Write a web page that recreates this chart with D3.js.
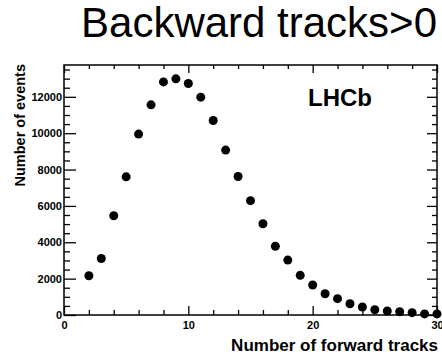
<!DOCTYPE html>
<html>
<head>
<meta charset="utf-8">
<script src="https://cdn.jsdelivr.net/npm/d3@7"></script>
<style>
  body { margin: 0; background: #fff; }
  svg { display: block; font-family: "Liberation Sans", Arial, sans-serif; }
  .axis path { display: none; }
  .axis line { stroke: #000; stroke-width: 1.3px; }
  .axis text { font-size: 11px; font-weight: bold; fill: #000; }
</style>
</head>
<body>
<script>
// number of forward tracks (bin centres)
var nTracks = [2, 3, 4, 5, 6, 7, 8, 9, 10, 11, 12, 13, 14, 15, 16,
               17, 18, 19, 20, 21, 22, 23, 24, 25, 26, 27, 28, 29, 30];
// number of events per bin
var nEvents = [2160, 3110, 5460, 7600, 9950, 11560, 12820, 12990, 12730, 11980, 10700, 9070, 7620, 6290, 5020,
               3780, 3020, 2180, 1650, 1170, 900, 620, 440, 290, 220, 180, 130, 60, 60];
var xMajor = [0, 10, 20, 30];
var yMajor = [0, 2000, 4000, 6000, 8000, 10000, 12000];

var W = 442, H = 356;
var pL = 64, pR = 437, pT = 65, pB = 315;

var svg = d3.select("body").append("svg")
    .attr("width", W)
    .attr("height", H);

var x = d3.scaleLinear().domain([0, 30]).range([pL, pR]);
var y = d3.scaleLinear().domain([0, 13750]).range([pB, pT]);

var xMinor = d3.range(0, 31, 2).filter(function(v) { return xMajor.indexOf(v) < 0; });
var yMinor = d3.range(0, 13750, 500).filter(function(v) { return yMajor.indexOf(v) < 0; });

// frame
svg.append("rect")
    .attr("x", pL).attr("y", pT)
    .attr("width", pR - pL).attr("height", pB - pT)
    .style("fill", "none").style("stroke", "#000").style("stroke-width", "1.5px");

// bottom axis (ticks point up)
svg.append("g").attr("class", "axis")
    .attr("transform", "translate(0," + pB + ")")
    .call(d3.axisBottom(x).tickValues(xMajor).tickSizeInner(-9).tickFormat(d3.format("d")))
    .selectAll("text").attr("y", 6).attr("dy", "0.71em");
svg.append("g").attr("class", "axis")
    .attr("transform", "translate(0," + pB + ")")
    .call(d3.axisBottom(x).tickValues(xMinor).tickSizeInner(-5).tickFormat(""));

// top axis (ticks point down)
svg.append("g").attr("class", "axis")
    .attr("transform", "translate(0," + pT + ")")
    .call(d3.axisTop(x).tickValues(xMajor).tickSizeInner(-8).tickFormat(""));
svg.append("g").attr("class", "axis")
    .attr("transform", "translate(0," + pT + ")")
    .call(d3.axisTop(x).tickValues(xMinor).tickSizeInner(-4).tickFormat(""));

// left axis (ticks point right)
svg.append("g").attr("class", "axis")
    .attr("transform", "translate(" + pL + ",0)")
    .call(d3.axisLeft(y).tickValues(yMajor).tickSizeInner(-12).tickFormat(d3.format("d")))
    .selectAll("text").attr("x", -2);
svg.append("g").attr("class", "axis")
    .attr("transform", "translate(" + pL + ",0)")
    .call(d3.axisLeft(y).tickValues(yMinor).tickSizeInner(-6).tickFormat(""));

// right axis (ticks point left)
svg.append("g").attr("class", "axis")
    .attr("transform", "translate(" + pR + ",0)")
    .call(d3.axisRight(y).tickValues(yMajor).tickSizeInner(-10).tickFormat(""));
svg.append("g").attr("class", "axis")
    .attr("transform", "translate(" + pR + ",0)")
    .call(d3.axisRight(y).tickValues(yMinor).tickSizeInner(-5).tickFormat(""));

// data points
svg.append("g").selectAll("circle")
    .data(nTracks)
    .join("circle")
    .attr("cx", function(d) { return x(d); })
    .attr("cy", function(d, i) { return y(nEvents[i]); })
    .attr("r", 4.5)
    .style("fill", "#000");

// labels
svg.append("text")
    .attr("x", 437).attr("y", 37)
    .style("text-anchor", "end")
    .style("font-size", "42px")
    .text("Backward tracks>0");

svg.append("text")
    .attr("x", 308).attr("y", 106)
    .style("font-size", "24px")
    .style("font-weight", "bold")
    .text("LHCb");

svg.append("text")
    .attr("transform", "translate(25,64) rotate(-90)")
    .style("text-anchor", "end")
    .style("font-size", "14.5px")
    .style("font-weight", "bold")
    .text("Number of events");

svg.append("text")
    .attr("x", 438).attr("y", 351)
    .style("text-anchor", "end")
    .style("font-size", "17px")
    .style("font-weight", "bold")
    .text("Number of forward tracks");
</script>
</body>
</html>
